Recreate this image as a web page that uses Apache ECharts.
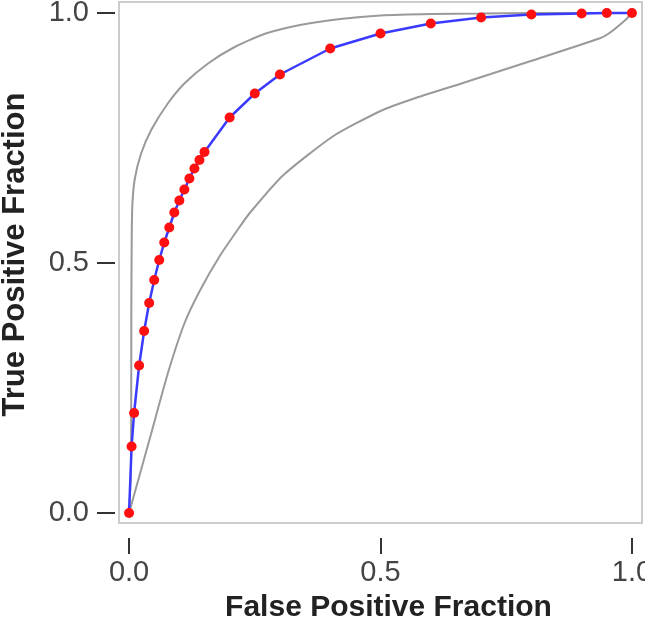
<!DOCTYPE html>
<html>
<head>
<meta charset="utf-8">
<title>ROC curve</title>
<script src="https://cdn.jsdelivr.net/npm/echarts@6/dist/echarts.min.js"></script>
<style>
    html, body { margin: 0; padding: 0; background: #fff; }
    #chart { width: 645px; height: 627px; }
</style>
</head>
<body>
<div id="chart"></div>
<script>
// ROC points (red dots on the blue line)
var fpr = [0, 0.005, 0.01, 0.02, 0.03, 0.04, 0.05, 0.06, 0.07, 0.08, 0.09, 0.10, 0.11, 0.12, 0.13, 0.14, 0.15,
    0.2, 0.25, 0.3, 0.4, 0.5, 0.6, 0.7, 0.8, 0.9, 0.95, 1.0];
var tpr = [0, 0.133, 0.2, 0.295, 0.364, 0.42, 0.466, 0.506, 0.541, 0.571, 0.601, 0.625, 0.647, 0.669, 0.689, 0.706, 0.722,
    0.791, 0.839, 0.877, 0.929, 0.959, 0.979, 0.991, 0.997, 0.999, 1.0, 1.0];

// upper confidence band (grey)
var upperX = [0, 0.004, 0.0045, 0.006, 0.011, 0.024, 0.044, 0.077, 0.11, 0.157, 0.21, 0.269, 0.34, 0.42,
    0.5, 0.6, 0.7, 0.8, 0.9, 1.0];
var upperY = [0, 0.1, 0.4, 0.6, 0.666, 0.719, 0.766, 0.819, 0.859, 0.899, 0.932, 0.958, 0.976, 0.988,
    0.995, 0.998, 0.999, 1.0, 1.0, 1.0];

// lower confidence band (grey)
var lowerX = [0, 0.044, 0.077, 0.11, 0.141, 0.181, 0.217, 0.24, 0.306, 0.405, 0.5, 0.564, 0.67, 0.802,
    0.935, 0.954, 0.987, 1.0];
var lowerY = [0, 0.159, 0.279, 0.379, 0.445, 0.515, 0.568, 0.6, 0.675, 0.753, 0.804, 0.828, 0.862, 0.905,
    0.949, 0.959, 0.986, 1.0];

// axis ticks
var tickValues = [0, 0.5, 1.0];
var tickLabels = ['0.0', '0.5', '1.0'];

function pairs(xs, ys) {
    var out = [];
    for (var i = 0; i < xs.length; i++) {
        out.push([xs[i], ys[i]]);
    }
    return out;
}

function tickText(v) {
    var i = tickValues.indexOf(v);
    return i >= 0 ? tickLabels[i] : '';
}

var font = 'Liberation Sans, Arial, sans-serif';

var chart = echarts.init(document.getElementById('chart'));
chart.setOption({
    animation: false,
    backgroundColor: '#fff',
    grid: {
        left: 119,
        right: 3,
        top: 2,
        bottom: 104,
        containLabel: false,
        outerBoundsMode: 'none',
        show: true,
        borderColor: '#cccccc',
        borderWidth: 2
    },
    xAxis: {
        type: 'value',
        min: -0.02,
        max: 1.02,
        offset: 15,
        name: 'False Positive Fraction',
        nameLocation: 'middle',
        nameGap: 55,
        nameTextStyle: {
            fontFamily: font, fontSize: 30, fontWeight: 'bold', color: '#222',
            padding: [0, 0, 0, 16]
        },
        axisLine: { show: false, onZero: false },
        axisTick: {
            show: true, length: 16, customValues: tickValues,
            lineStyle: { color: '#333', width: 2 }
        },
        axisLabel: {
            customValues: tickValues, margin: 20, formatter: tickText,
            fontFamily: font, fontSize: 29, color: '#444'
        },
        splitLine: { show: false }
    },
    yAxis: {
        type: 'value',
        min: -0.02,
        max: 1.022,
        offset: 4,
        name: 'True Positive Fraction',
        nameLocation: 'middle',
        nameGap: 84,
        nameTextStyle: {
            fontFamily: font, fontSize: 31, fontWeight: 'bold', color: '#222',
            padding: [0, 0, 0, 16]
        },
        axisLine: { show: false, onZero: false },
        axisTick: {
            show: true, length: 18, customValues: tickValues,
            lineStyle: { color: '#333', width: 2 }
        },
        axisLabel: {
            customValues: tickValues, margin: 26, formatter: tickText,
            fontFamily: font, fontSize: 29, color: '#444'
        },
        splitLine: { show: false }
    },
    series: [
        {
            name: 'upper',
            type: 'line',
            data: pairs(upperX, upperY),
            smooth: 0.2,
            showSymbol: false,
            lineStyle: { color: '#9a9a9a', width: 2 },
            z: 1
        },
        {
            name: 'lower',
            type: 'line',
            data: pairs(lowerX, lowerY),
            smooth: 0.2,
            showSymbol: false,
            lineStyle: { color: '#9a9a9a', width: 2 },
            z: 1
        },
        {
            name: 'roc',
            type: 'line',
            data: pairs(fpr, tpr),
            symbol: 'circle',
            symbolSize: 10,
            lineStyle: { color: '#3b3bff', width: 2.5 },
            itemStyle: { color: '#ff0f0f' },
            z: 3
        }
    ]
});
</script>
</body>
</html>
